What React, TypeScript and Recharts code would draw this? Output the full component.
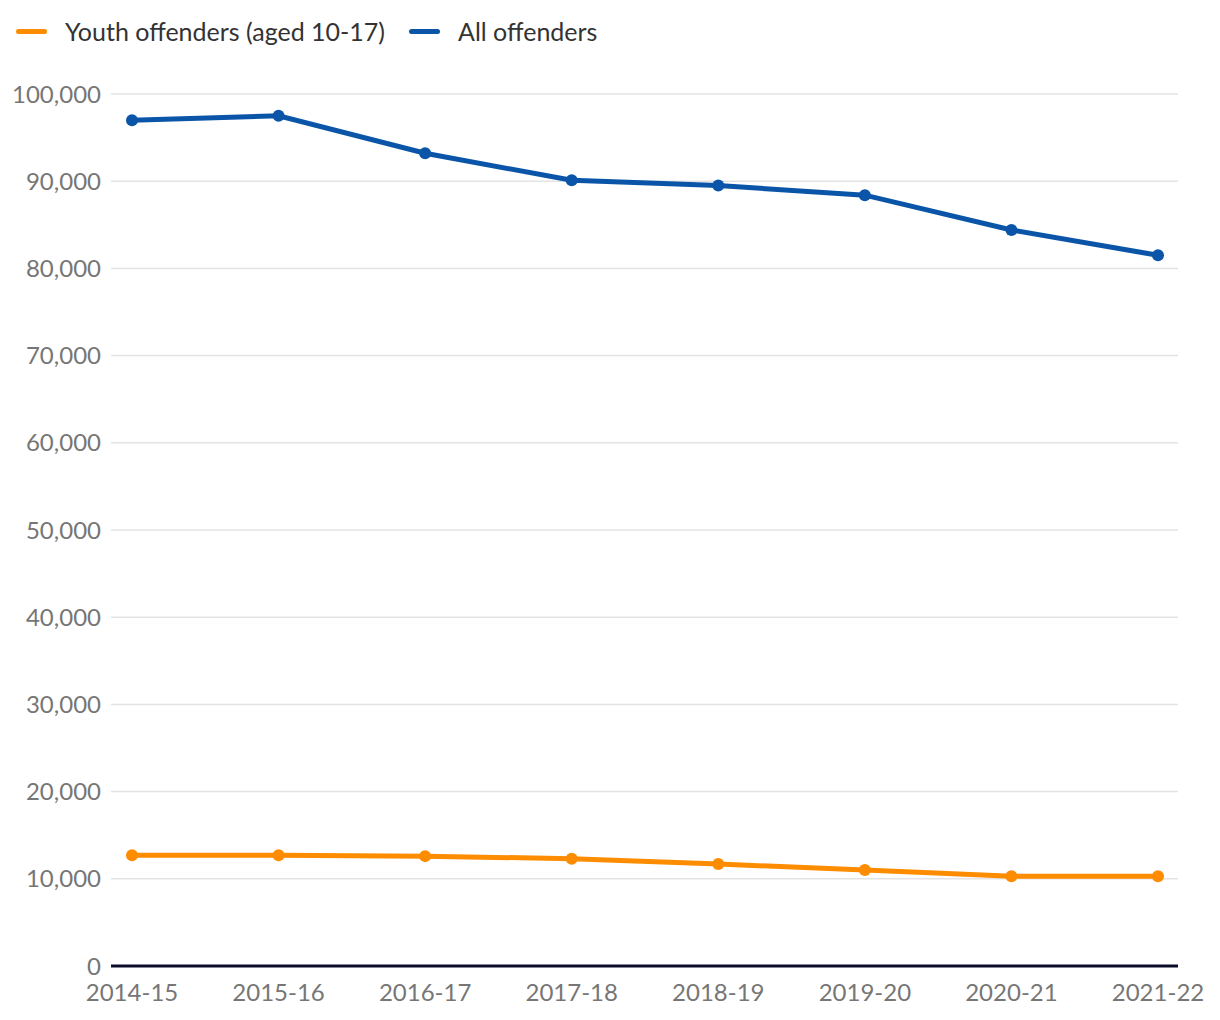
import React from 'react';
import { LineChart, Line, XAxis, YAxis, CartesianGrid, Legend } from 'recharts';

const years = ['2014-15', '2015-16', '2016-17', '2017-18', '2018-19', '2019-20', '2020-21', '2021-22'];
const youthOffenders = [12700, 12700, 12600, 12300, 11700, 11000, 10300, 10300];
const allOffenders = [97000, 97500, 93200, 90100, 89500, 88400, 84400, 81500];
const yTicks = [0, 10000, 20000, 30000, 40000, 50000, 60000, 70000, 80000, 90000, 100000];

const ORANGE = '#fd8c00';
const BLUE = '#0b55a8';
const FONT = 'Lato, "Noto Sans", sans-serif';

const data = years.map((year, i) => ({
  year,
  youth: youthOffenders[i],
  all: allOffenders[i],
}));

const seriesLabels = [
  { key: 'youth', label: 'Youth offenders (aged 10-17)', color: ORANGE },
  { key: 'all', label: 'All offenders', color: BLUE },
];

const LegendContent = () => (
  <div style={{ display: 'flex', alignItems: 'center', fontFamily: FONT, fontSize: 25, color: '#333', height: 30 }}>
    {seriesLabels.map((s) => (
      <div key={s.key} style={{ display: 'flex', alignItems: 'center', marginRight: 24 }}>
        <span style={{ display: 'inline-block', width: 31, height: 5, borderRadius: 3, background: s.color, marginRight: 18 }} />
        <span>{s.label}</span>
      </div>
    ))}
  </div>
);

const App: React.FC = () => {
  return (
    <div style={{ margin: -8, background: '#fff', width: 1220, height: 1020 }}>
      <LineChart width={1220} height={1020} data={data} margin={{ top: 64, right: 42, bottom: 24, left: 0 }}>
        <Legend
          verticalAlign="top"
          align="left"
          content={<LegendContent />}
          wrapperStyle={{ top: 16, left: 16, height: 30 }}
        />
        <CartesianGrid vertical={false} stroke="#e3e3e3" strokeWidth={1.5} />
        <XAxis
          dataKey="year"
          padding={{ left: 21, right: 20 }}
          axisLine={{ stroke: '#0b0c2a', strokeWidth: 3 }}
          tickLine={false}
          tick={{ fill: '#767676', fontSize: 24, fontFamily: FONT }}
          tickMargin={12}
          height={30}
          interval={0}
        />
        <YAxis
          domain={[0, 100000]}
          ticks={yTicks}
          width={111}
          axisLine={false}
          tickLine={false}
          tickMargin={4}
          tickFormatter={(v: number) => v.toLocaleString('en-GB')}
          tick={{ fill: '#767676', fontSize: 24, fontFamily: FONT }}
        />
        <Line
          dataKey="youth"
          name="Youth offenders (aged 10-17)"
          stroke={ORANGE}
          strokeWidth={5}
          dot={{ r: 6, fill: ORANGE, stroke: ORANGE, strokeWidth: 0 }}
          isAnimationActive={false}
        />
        <Line
          dataKey="all"
          name="All offenders"
          stroke={BLUE}
          strokeWidth={5}
          dot={{ r: 6, fill: BLUE, stroke: BLUE, strokeWidth: 0 }}
          isAnimationActive={false}
        />
      </LineChart>
    </div>
  );
};

export default App;
